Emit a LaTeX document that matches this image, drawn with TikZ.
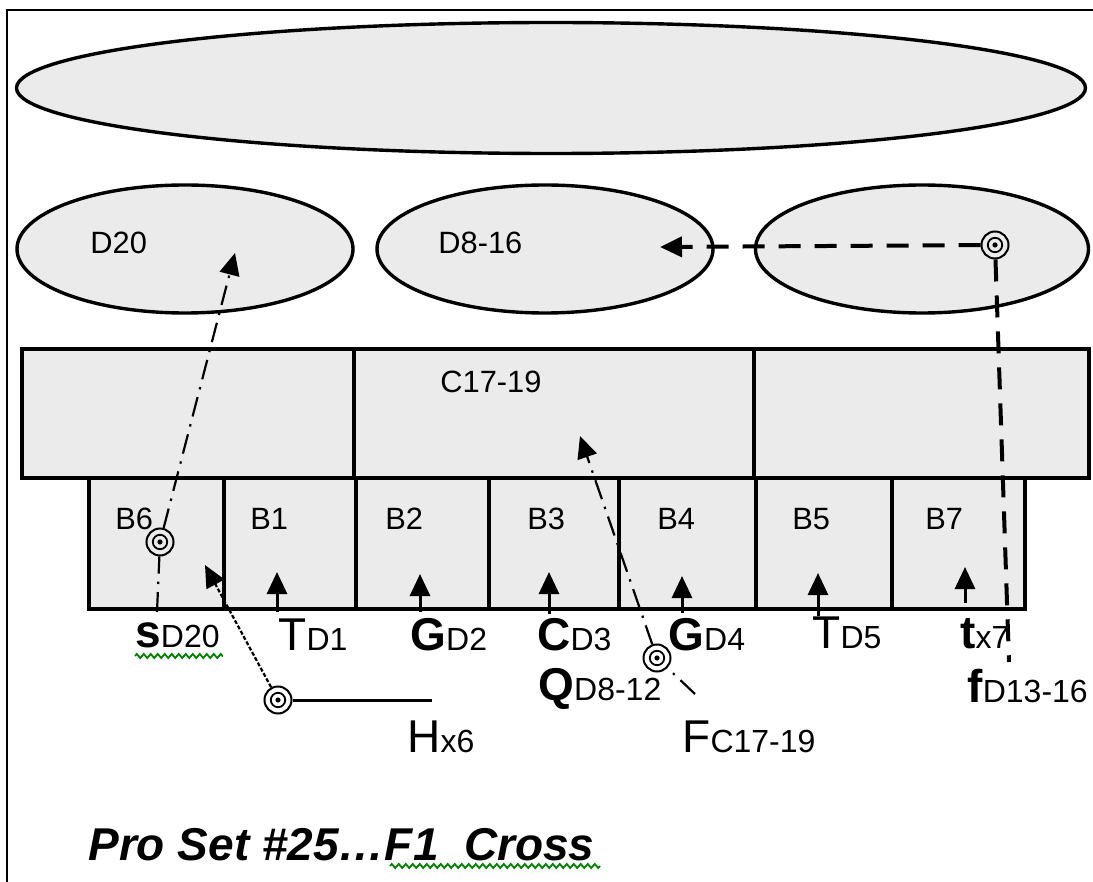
\documentclass[tikz,border=0pt]{standalone}
\usepackage{fontspec}
\setmainfont{Liberation Sans}
\usetikzlibrary{shapes.geometric,arrows.meta,decorations.pathmorphing}

\definecolor{panel}{RGB}{235,235,235}
\definecolor{spell}{RGB}{0,128,0}

\newcommand\tagfont{\fontsize{15.4}{16}\selectfont}
\newcommand\plyfont{\fontsize{23}{24}\selectfont}
\newcommand\zonefont{\fontsize{16}{17}\selectfont}
\newcommand\titlefont{\fontsize{23}{24}\selectfont\bfseries\itshape}
% route label: large letter followed by its zone in smaller type
\newcommand\rlab[2]{{\plyfont #1}{\zonefont #2}}

\begin{document}
\begin{tikzpicture}[x=0.5pt,y=-0.5pt,
  oval/.style={ellipse, draw, line width=1.7pt, fill=panel, inner sep=0pt},
  zone/.style={rectangle, draw, line width=2.2pt, fill=panel, inner sep=0pt, anchor=north west},
  tag/.style={anchor=west, inner sep=0pt, font=\tagfont},
  route/.style={anchor=base west, inner sep=0pt},
  bullseye/.style={circle, draw, line width=1pt, minimum size=13.5pt, inner sep=0pt,
    path picture={\draw[line width=0.9pt] (path picture bounding box.center) circle (3.6pt);
                  \fill (path picture bounding box.center) circle (1.3pt);}},
  headtip/.style={-{Triangle[length=11pt,width=10pt]}},
  upline/.style={line width=1.5pt, headtip},
  chainline/.style={line width=1.1pt, dash pattern=on 10pt off 4pt on 1.2pt off 4pt},
  heavydash/.style={line width=2pt, dash pattern=on 11pt off 7pt},
  finedash/.style={line width=1.1pt, dash pattern=on 2pt off 1pt},
  squiggle/.style={draw=spell, line width=0.9pt, decorate,
    decoration={zigzag, segment length=3.5pt, amplitude=1pt}}
]
\useasboundingbox (0,0) rectangle (1093,882);

% page frame
\draw[line width=1pt] (7,882) -- (7,10) -- (1093,10);

% ovals
\node[oval, minimum width=534.5pt, minimum height=65.5pt] (deep) at (551,88) {};
\node[oval, minimum width=168pt, minimum height=64pt] (eL) at (185,249) {};
\node[oval, minimum width=168pt, minimum height=64pt] (eM) at (545,249) {};
\node[oval, minimum width=166.5pt, minimum height=64pt] (eR) at (922,249) {};

% middle row
\node[zone, minimum width=166pt, minimum height=64.5pt] (cL) at (20,347) {};
\node[zone, minimum width=200pt, minimum height=64.5pt] (cM) at (352,347) {};
\node[zone, minimum width=167.5pt, minimum height=64.5pt] (cR) at (752,347) {};

% front row boxes
\node[zone, minimum width=67.5pt, minimum height=65.5pt] (b6) at (87,476) {};
\node[zone, minimum width=66pt, minimum height=65.5pt] (b1) at (222,476) {};
\node[zone, minimum width=66.5pt, minimum height=65.5pt] (b2) at (354,476) {};
\node[zone, minimum width=65pt, minimum height=65.5pt] (b3) at (487,476) {};
\node[zone, minimum width=68.5pt, minimum height=65.5pt] (b4) at (617,476) {};
\node[zone, minimum width=68pt, minimum height=65.5pt] (b5) at (754,476) {};
\node[zone, minimum width=66.5pt, minimum height=65.5pt] (b7) at (890,476) {};

% area tags
\node[tag] (tD20) at (90,243) {D20};
\node[tag] (tD816) at (438,243) {D8-16};
\node[tag] (tC) at (440,382) {C17-19};
\node[tag] (tB6) at (115,519) {B6};
\node[tag] (tB1) at (250,519) {B1};
\node[tag] (tB2) at (385,519) {B2};
\node[tag] (tB3) at (527,519) {B3};
\node[tag] (tB4) at (657,519) {B4};
\node[tag] (tB5) at (792,519) {B5};
\node[tag] (tB7) at (925,519) {B7};

% route labels
\node[route] (lS) at (135,647) {\rlab{\textbf{s}}{D20}};
\node[route] (lT1) at (278,650) {\rlab{T}{D1}};
\node[route] (lG2) at (410,650) {\rlab{\textbf{G}}{D2}};
\node[route] (lC3) at (537,650) {\rlab{\textbf{C}}{D3}};
\node[route] (lG4) at (668,650) {\rlab{\textbf{G}}{D4}};
\node[route] (lT5) at (812,648) {\rlab{T}{D5}};
\node[route] (lt7) at (960,648) {\rlab{\textbf{t}}{x7}};
\node[route] (lQ) at (538,700) {\rlab{\textbf{Q}}{D8-12}};
\node[route] (lH) at (407,752) {\rlab{H}{x6}};
\node[route] (lF) at (682,752) {\rlab{F}{C17-19}};
\node[route] (lf) at (967,702) {\rlab{\textbf{f}}{D13-16}};

% short release arrows into the boxes
\coordinate (f1) at (277,612); \coordinate (h1) at (277,572);
\coordinate (f2) at (420,612); \coordinate (h2) at (420,574);
\coordinate (f3) at (549,614); \coordinate (h3) at (549,572);
\coordinate (f4) at (682,613); \coordinate (h4) at (682,576);
\coordinate (f5) at (818,616); \coordinate (h5) at (818,573);
\coordinate (f7) at (965,603); \coordinate (h7) at (965,567);
\draw[upline] (f1) -- (h1);
\draw[upline] (f2) -- (h2);
\draw[upline] (f3) -- (h3);
\draw[upline] (f4) -- (h4);
\draw[upline] (f5) -- (h5);
\draw[upline] (f7) -- (h7);

% s: up through B6 into D20
\coordinate (sFoot) at (157,612);
\coordinate (sHead) at (235,253);
\node[bullseye] (oS) at (160,542) {};
\draw[chainline] (sFoot) -- (oS);
\draw[chainline, headtip] (oS) -- (sHead);

% H: flat then back into B6
\node[bullseye] (oH) at (278,700) {};
\coordinate (hEnd) at (432,700);
\coordinate (hHead) at (205,565);
\draw[line width=1.5pt] (oH) -- (hEnd);
\draw[finedash, headtip] (oH) -- (hHead);

% F: up into C17-19
\node[bullseye] (oF) at (657,658) {};
\coordinate (fTail) at (695,694);
\coordinate (fHead) at (580,436);
\draw[chainline] (fTail) -- (oF);
\draw[chainline, headtip] (oF) -- (fHead);

% f: deep and across into D8-16
\node[bullseye] (oR) at (995,245) {};
\coordinate (rHead) at (660,247);
\coordinate (rFoot) at (1009,662);
\draw[heavydash, headtip] (oR) -- (rHead);
\draw[heavydash] (oR) -- (rFoot);

% title
\node[anchor=base west, inner sep=0pt, font=\titlefont] (title) at (88,860) {Pro Set \#25…F1\ \ Cross};

% spelling marks
\draw[squiggle] (135,656) -- (223,656);
\draw[squiggle] (390,866) -- (600,866);
\end{tikzpicture}
\end{document}
